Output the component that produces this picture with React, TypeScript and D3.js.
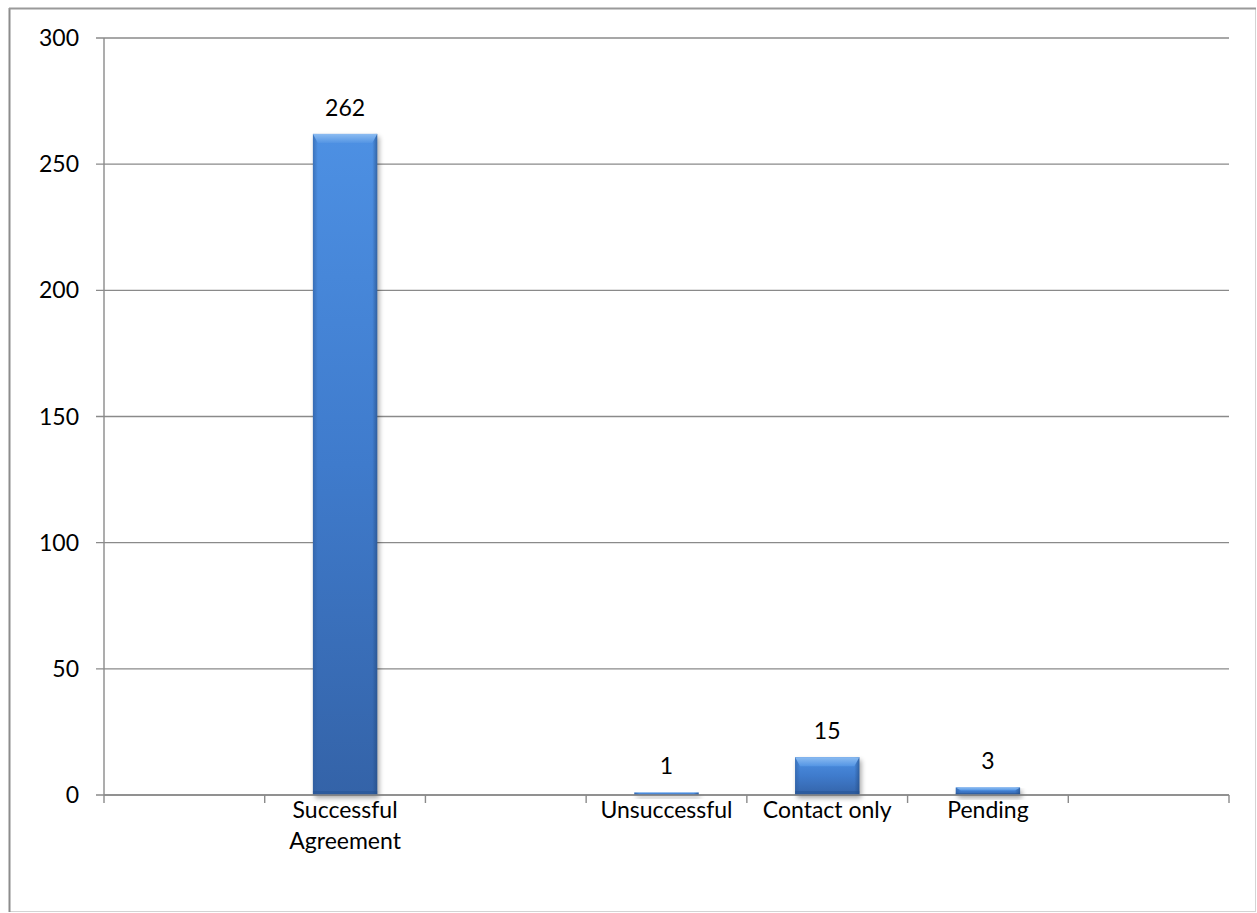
import React from "react";
import * as d3 from "d3";

// Outcome categories; blank entries are empty slots on the axis
const categories: string[] = ["", "Successful Agreement", "", "Unsuccessful", "Contact only", "Pending", ""];
const categoryLines: string[][] = [[], ["Successful", "Agreement"], [], ["Unsuccessful"], ["Contact only"], ["Pending"], []];
const counts: (number | null)[] = [null, 262, null, 1, 15, 3, null];
const yTicks: number[] = [0, 50, 100, 150, 200, 250, 300];

const W = 1257;
const H = 913;
const left = 104;
const right = 1229;
const top = 38;
const bottom = 795;
const FONT = "Lato, 'Open Sans', sans-serif";

export default function App() {
  const keys = categories.map((_, i) => String(i));
  const x = d3.scaleBand<string>().domain(keys).range([left, right]).paddingInner(0.6).paddingOuter(0.3);
  const step = (right - left) / categories.length;
  const y = d3.scaleLinear().domain([0, 300]).range([bottom, top]);
  const boundaries = d3.range(categories.length + 1).map((i) => left + i * step);

  return (
    <svg width={W} height={H} style={{ position: "absolute", left: 0, top: 0, background: "#fff" }} fontFamily={FONT}>
      <defs>
        <linearGradient id="barFill" x1="0" y1="0" x2="0" y2="1">
          <stop offset="0" stopColor="#4d90e3" />
          <stop offset="0.5" stopColor="#3f7bcc" />
          <stop offset="1" stopColor="#3463a8" />
        </linearGradient>
        <linearGradient id="bevelTop" x1="0" y1="0" x2="0" y2="1">
          <stop offset="0" stopColor="#8cbcf1" />
          <stop offset="1" stopColor="#5495e4" />
        </linearGradient>
        <linearGradient id="sideShade" x1="0" y1="0" x2="1" y2="0">
          <stop offset="0" stopColor="#2c5a9a" stopOpacity="0.55" />
          <stop offset="1" stopColor="#2c5a9a" stopOpacity="0" />
        </linearGradient>
        <linearGradient id="sideShadeR" x1="1" y1="0" x2="0" y2="0">
          <stop offset="0" stopColor="#22497f" stopOpacity="0.6" />
          <stop offset="1" stopColor="#22497f" stopOpacity="0" />
        </linearGradient>
        <filter id="soft" x="-20%" y="-20%" width="140%" height="140%">
          <feGaussianBlur stdDeviation="2.5" />
        </filter>
      </defs>

      {/* chart area frame */}
      <rect x={9.5} y={8.5} width={1246} height={903} fill="#fff" stroke="#d4d4d4" strokeWidth={1} />
      <line x1={9.5} y1={8} x2={9.5} y2={912} stroke="#8c8c8c" strokeWidth={2} />
      <line x1={9} y1={8.5} x2={1256} y2={8.5} stroke="#9a9a9a" strokeWidth={2} />

      {/* horizontal gridlines and y ticks */}
      {yTicks.map((t) => (
        <g key={t}>
          <line x1={96} x2={right} y1={y(t)} y2={y(t)} stroke="#8a8a8a" strokeWidth={1.4} />
          <text x={79} y={y(t)} dy="0.35em" textAnchor="end" fontSize={23} fill="#000">
            {t}
          </text>
        </g>
      ))}
      {/* y axis */}
      <line x1={left} x2={left} y1={top} y2={bottom} stroke="#8a8a8a" strokeWidth={1.4} />

      {/* bars */}
      {counts.map((v, i) => {
        if (v == null) return null;
        const bx = x(String(i))!;
        const bw = x.bandwidth();
        const by = y(v);
        const bh = y(0) - by;
        const bt = Math.min(9, bh * 0.4);
        const bs = Math.min(5, bw / 4);
        return (
          <g key={i}>
            <rect x={bx + 2} y={by + 3} width={bw} height={bh} fill="#000" opacity={0.35} filter="url(#soft)" />
            <rect x={bx} y={by} width={bw} height={bh} fill="url(#barFill)" />
            <rect x={bx} y={by} width={bs} height={bh} fill="url(#sideShade)" />
            <rect x={bx + bw - bs} y={by} width={bs} height={bh} fill="url(#sideShadeR)" />
            <polygon
              points={`${bx},${by} ${bx + bw},${by} ${bx + bw - bs},${by + bt} ${bx + bs},${by + bt}`}
              fill="url(#bevelTop)"
            />
            <rect x={bx} y={by + bh - Math.min(4, bh * 0.25)} width={bw} height={Math.min(4, bh * 0.25)} fill="#24508f" opacity={0.45} />
            <text x={bx + bw / 2} y={by - 18} textAnchor="middle" fontSize={23} fill="#000">
              {v}
            </text>
          </g>
        );
      })}

      {/* x axis with slot boundary ticks */}
      <line x1={left} x2={right} y1={bottom} y2={bottom} stroke="#8a8a8a" strokeWidth={1.4} />
      {boundaries.map((bx, i) => (
        <line key={i} x1={bx} x2={bx} y1={bottom} y2={bottom + 8} stroke="#8a8a8a" strokeWidth={1.4} />
      ))}

      {/* category labels */}
      {categoryLines.map((lines, i) => (
        <text key={i} x={x(String(i))! + x.bandwidth() / 2} y={818} textAnchor="middle" fontSize={23} fill="#000">
          {lines.map((ln, j) => (
            <tspan key={j} x={x(String(i))! + x.bandwidth() / 2} dy={j === 0 ? 0 : 31}>
              {ln}
            </tspan>
          ))}
        </text>
      ))}
    </svg>
  );
}
